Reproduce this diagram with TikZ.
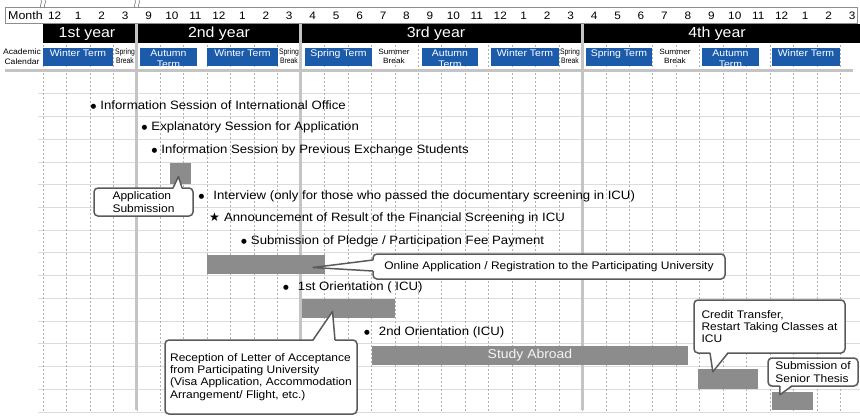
\documentclass[tikz,border=0pt]{standalone}
\usepackage{fontspec}
\setmainfont{Liberation Sans}[FakeStretch=1.09]
\newfontfamily\narrowfont{Liberation Sans}[FakeStretch=0.85]
\newfontfamily\symfont{DejaVu Sans}
\usetikzlibrary{fit, calc}
\definecolor{termBlue}{HTML}{1B5BAA}
\definecolor{barGray}{HTML}{8C8C8C}
\definecolor{yearLine}{HTML}{C4C4C4}
\definecolor{gridGray}{HTML}{B0B0B0}
\definecolor{rowGray}{HTML}{DCDCDC}
\definecolor{noteEdge}{HTML}{5A5A5A}
\newcommand{\fsz}[1]{\fontsize{#1}{#1}\selectfont}
\newcommand{\evdot}{\raisebox{0.9pt}{\symfont\fsz{6.6}\char"25CF}}
\newcommand{\bul}{\evdot\hspace{4pt}}
\newcommand{\bulw}{\evdot\hspace{9pt}}
\tikzset{
  term/.style={fill=termBlue, text=white, inner sep=0pt, font=\fsz{9.6}},
  termtwo/.style={text=white, inner sep=0pt, align=center, font=\fontsize{9.6}{10.4}\selectfont},
  yeartext/.style={text=white, inner sep=0pt, font=\fsz{14.6}},
  brk/.style={align=center, inner sep=0pt, font=\narrowfont\fontsize{8}{9}\selectfont},
  event/.style={anchor=west, inner sep=0pt, font=\fsz{12.1}},
  period/.style={fill=barGray, inner sep=0pt},
  note/.style={draw=noteEdge, line width=1.5pt, rounded corners=4pt, fill=white,
               inner sep=0pt, outer sep=0pt, align=left, font=\fontsize{11}{12.3}\selectfont},
  notepin/.style={draw=noteEdge, line width=1.5pt, line join=round},
}

\begin{document}
\begin{tikzpicture}[x=1pt, y=-1pt]
\useasboundingbox (0,0) rectangle (860,420);

\foreach \j in {1,...,15}
  \draw[rowGray, line width=0.8pt] (38,{71+22.73*\j}) -- (860,{71+22.73*\j});
\foreach \i in {0,...,35}
  \draw[gridGray, line width=0.5pt, dash pattern=on 2pt off 2pt] ({43+23.45*\i},45) -- ({43+23.45*\i},412);

\draw[gridGray!80!black, line width=0.8pt, fill=white] (5,7) rectangle (857,23);
\foreach \bx in {41,45,135,139}
  \draw[gray, line width=0.6pt] (\bx,0) .. controls (\bx+2.5,2) and (\bx-2.5,5) .. (\bx,8);
\node[anchor=west, inner sep=0pt, font=\fsz{11.4}] (monthlabel) at (8,15.5) {Month};
\foreach \m [count=\i from 0] in {12,1,2,3,9,10,11,12,1,2,3,4,5,6,7,8,9,10,11,12,1,2,3,4,5,6,7,8,9,10,11,12,1,2,3}
  \node[inner sep=0pt, font=\fsz{10.8}] at ({43+23.45*(\i+0.5)},15.5) {\m};

\fill[black] (43,24) rectangle (860,43);
\node[yeartext] (year1) at (87,33.5) {1st year};
\node[yeartext] (year2) at (219,33.5) {2nd year};
\node[yeartext] (year3) at (436,33.5) {3rd year};
\node[yeartext] (year4) at (717,33.5) {4th year};

\node[align=center, inner sep=0pt, font=\fontsize{7.9}{10}\selectfont] (acal) at (22,56.5) {Academic\\Calendar};
\foreach \xa/\xb/\lbl [count=\k] in {43/113/Winter Term, 207/278/Winter Term, 305/372/Spring Term,
    491/559/Winter Term, 586/652/Spring Term, 772/840/Winter Term}
  \node[term, fit={(\xa,48) (\xb,66)}] (term\k) {\lbl};
\foreach \xa/\xb [count=\k] in {140/197, 422/478, 702/759} {
  \node[term, fit={(\xa,48) (\xb,66)}] (autumn\k) {};
  \node[termtwo] at ($(autumn\k.center)+(0,1.8)$) {Autumn\\Term};
}
\foreach \bx in {125,289,570}
  \node[brk] at (\bx,56.5) {Spring\\Break};
\foreach \bx in {394,675}
  \node[brk, font=\fontsize{7.6}{9}\selectfont] at (\bx,56.5) {Summer\\Break};
\draw[yearLine, line width=3pt] (5,71) -- (853,71);
\foreach \i in {4,11,23}
  \draw[yearLine, line width=3pt] ({43+23.45*\i},24) -- ({43+23.45*\i},410);

\node[period, fit={(170,163) (191,184)}] (appbar) {};
\node[period, fit={(207,255) (325,274)}] (onlinebar) {};
\node[period, fit={(302,299) (395,318)}] (orientbar) {};
\node[period, fit={(372,346) (688,365)}] (studybar) {};
\node[period, fit={(698,369) (758,389)}] (creditbar) {};
\node[period, fit={(772,392) (813,410)}] (thesisbar) {};
\node[inner sep=0pt, text=white!92!gray, font=\fsz{12.8}] at (studybar) {Study Abroad};

\node[event] (infooffice) at (90.5,105) {\bul Information Session of International Office};
\node[event] (explain) at (141.5,127.5) {\bul Explanatory Session for Application};
\node[event] (prevstudents) at (151.5,150) {\bul Information Session by Previous Exchange Students};
\node[event] (interview) at (198.5,196) {\bulw Interview (only for those who passed the documentary screening in ICU)};
\node[event] (result) at (209,218.5) {{\symfont\char"2605}\hspace{4pt}Announcement of Result of the Financial Screening in ICU};
\node[event] (pledge) at (241,241) {\bul Submission of Pledge / Participation Fee Payment};
\node[event] (orient1) at (283,287) {\bulw 1st Orientation ( ICU)};
\node[event] (orient2) at (364,332) {\bulw 2nd Orientation (ICU)};

\node[note, minimum width=99pt, minimum height=28pt] (appnote) at (143.5,202) {Application\\Submission};
\node[note, minimum width=352pt, minimum height=25pt] (onlinenote) at (549,266.5)
  {Online Application / Registration to the Participating University};
\node[note, minimum width=192pt, minimum height=74pt] (letternote) at (261,377)
  {Reception of Letter of Acceptance\\from Participating University\\(Visa Application, Accommodation\\Arrangement/ Flight, etc.)};
\node[note, minimum width=151pt, minimum height=53pt] (creditnote) at (769.5,326.5)
  {Credit Transfer,\\Restart Taking Classes at\\ICU};
\node[note, minimum width=90pt, minimum height=28pt] (thesisnote) at (813,372)
  {Submission of\\Senior Thesis};

\coordinate (apptip) at ($(appbar.center)+(-2,3)$);
\coordinate (onlinetip) at ($(onlinebar.east)+(-12,3)$);
\coordinate (lettertip) at ($(orientbar.center)+(-16,3)$);
\coordinate (credittip) at ($(creditbar.north west)+(15,3)$);
\coordinate (thesistip) at ($(thesisbar.north west)+(8,3)$);

\fill[white] ($(appnote.north west)+(79,1.5)$) -- (apptip) -- ($(appnote.north west)+(88,1.5)$) -- cycle;
\draw[notepin] ($(appnote.north west)+(79,0)$) -- (apptip) -- ($(appnote.north west)+(88,0)$);
\fill[white] ($(onlinenote.north west)+(1.5,6)$) -- (onlinetip) -- ($(onlinenote.north west)+(1.5,17)$) -- cycle;
\draw[notepin] ($(onlinenote.north west)+(0,6)$) -- (onlinetip) -- ($(onlinenote.north west)+(0,17)$);
\fill[white] ($(letternote.north west)+(148,1.5)$) -- (lettertip) -- ($(letternote.north west)+(170,1.5)$) -- cycle;
\draw[notepin] ($(letternote.north west)+(148,0)$) -- (lettertip) -- ($(letternote.north west)+(170,0)$);
\fill[white] ($(creditnote.south west)+(16,-1.5)$) -- (credittip) -- ($(creditnote.south west)+(34,-1.5)$) -- cycle;
\draw[notepin] ($(creditnote.south west)+(16,0)$) -- (credittip) -- ($(creditnote.south west)+(34,0)$);
\fill[white] ($(thesisnote.south west)+(12,-1.5)$) -- (thesistip) -- ($(thesisnote.south west)+(24,-1.5)$) -- cycle;
\draw[notepin] ($(thesisnote.south west)+(12,0)$) -- (thesistip) -- ($(thesisnote.south west)+(24,0)$);
\end{tikzpicture}
\end{document}
